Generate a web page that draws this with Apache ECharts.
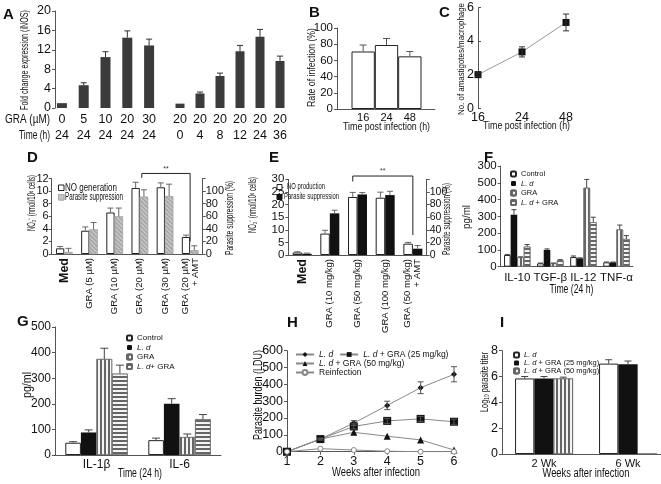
<!DOCTYPE html>
<html><head><meta charset="utf-8">
<script src="https://cdn.jsdelivr.net/npm/echarts@6/dist/echarts.min.js"></script>
<style>html,body{margin:0;padding:0;background:#fff}#c{width:661px;height:484px}</style>
</head><body><div id="c"></div>
<script>
// ---------- DATA ----------
// Panel A
const aGra1 = ['0','5','10','20','30'];
const aTime1 = ['24','24','24','24','24'];
const aFold1 = [1.0, 4.7, 10.5, 14.5, 12.9];
const aFoldErr1 = [0, 0.5, 1.1, 1.4, 1.3];
const aGra2 = ['20','20','20','20','20','20'];
const aTime2 = ['0','4','8','12','24','36'];
const aFold2 = [0.9, 3.0, 6.6, 11.7, 14.7, 9.7];
const aFoldErr2 = [0, 0.3, 0.6, 1.2, 1.5, 1.0];
// Panel B
const bCats = ['16','24','48'];
const bRate = [71, 79, 65];
const bRateErr = [8, 8, 6];
// Panel C
const cCats = ['16','24','48'];
const cAmast = [2.0, 3.35, 5.1];
const cAmastErr = [0.1, 0.3, 0.5];
// Panel D
const dCats = ['Med','GRA (5 µM)','GRA (10 µM)','GRA (20 µM)','GRA (30 µM)','GRA (20 µM)\n+ AMT'];
const dNO = [0.9, 3.7, 6.6, 10.5, 10.6, 2.7];
const dNOErr = [0.3, 0.6, 0.7, 0.9, 0.7, 0.3];
const dSupp = [3, 39, 60, 91, 92, 6];
const dSuppErr = [6, 11, 13, 11, 19, 7];
// Panel E
const eCats = ['Med','GRA (10 mg/kg)','GRA (50 mg/kg)','GRA (100 mg/kg)','GRA (50 mg/kg)\n+ AMT'];
const eNO = [1.0, 8.5, 23.0, 22.7, 4.5];
const eNOErr = [0.3, 1.3, 1.8, 2.2, 0.5];
const eSupp = [2, 66, 96, 95, 10];
const eSuppErr = [1, 5, 3, 6, 5];
// Panel F
const fCats = ['IL-10','TGF-β','IL-12','TNF-α'];
const fControl = [70, 20, 58, 26];
const fControlErr = [3, 2, 6, 2];
const fLd = [310, 100, 50, 26];
const fLdErr = [30, 6, 3, 2];
const fGra = [56, 20, 470, 222];
const fGraErr = [3, 2, 50, 26];
const fLdGra = [120, 38, 265, 165];
const fLdGraErr = [12, 4, 30, 20];
const fTickLabels = ['0','100','200','300','400','500','300'];
// Panel G
const gCats = ['IL-1β','IL-6'];
const gControl = [48, 58];
const gControlErr = [4, 8];
const gLd = [88, 200];
const gLdErr = [10, 20];
const gGra = [375, 70];
const gGraErr = [42, 12];
const gLdGra = [318, 140];
const gLdGraErr = [33, 18];
// Panel H
const hWeeks = [1, 2, 3, 4, 5, 6];
const hLd = [0, 75, 170, 275, 380, 460];
const hLdErr = [0, 5, 15, 25, 35, 45];
const hGra25 = [0, 75, 150, 183, 195, 178];
const hGra25Err = [0, 5, 15, 15, 15, 15];
const hGra50 = [0, 75, 115, 92, 70, 10];
const hGra50Err = [0, 4, 8, 8, 8, 5];
const hReinf = [0, 18, 10, 3, 0, 0];
// Panel I
const iCats = ['2 Wk','6 Wk'];
const iLd = [5.85, 7.0];
const iLdErr = [0.15, 0.3];
const iGra25 = [5.85, 6.95];
const iGra25Err = [0.15, 0.25];
const iGra50 = [5.85, 0];
const iGra50Err = [0.1, 0];

// ---------- HELPERS ----------
const FONT = '"Liberation Sans", Arial, sans-serif';
const NARROW = '"Liberation Sans Narrow", "Liberation Sans", Arial, sans-serif';
const AXC = '#555';
function merge(a, b) {
  for (const k in b) {
    if (b[k] && typeof b[k] === 'object' && !Array.isArray(b[k]) && a[k] && typeof a[k] === 'object' && !Array.isArray(a[k])) merge(a[k], b[k]);
    else a[k] = b[k];
  }
  return a;
}
const grids = [], xAxes = [], yAxes = [], series = [], legends = [], graphics = [];
function addGrid(g) { grids.push(Object.assign({ containLabel: false, outerBoundsMode: 'none' }, g)); return grids.length - 1; }
function addX(o) { xAxes.push(o); return xAxes.length - 1; }
function addY(o) { yAxes.push(o); return yAxes.length - 1; }
function valY(gi, min, max, interval, extra) {
  return addY(merge({
    type: 'value', gridIndex: gi, min, max, interval,
    axisLine: { show: true, lineStyle: { color: AXC, width: 1 } },
    axisTick: { show: true, length: 3, lineStyle: { color: AXC } },
    splitLine: { show: false },
    axisLabel: { fontSize: 12, color: '#111', margin: 4, fontFamily: NARROW }
  }, extra || {}));
}
function catX(gi, data, extra) {
  return addX(merge({
    type: 'category', gridIndex: gi, data,
    axisLine: { show: true, lineStyle: { color: AXC, width: 1 } },
    axisTick: { show: false },
    axisLabel: { fontSize: 12, color: '#111', margin: 4, interval: 0, fontFamily: NARROW }
  }, extra || {}));
}
function bar(name, xi, yi, data, style, barWidth, extra) {
  series.push(merge({
    name, type: 'bar', xAxisIndex: xi, yAxisIndex: yi, data,
    barWidth, barGap: '0%', itemStyle: style, silent: true, animation: false
  }, extra || {}));
}
function errBars(xi, yi, xs, vals, errs, offsetPx, capHalf, both, color) {
  series.push({
    type: 'custom', xAxisIndex: xi, yAxisIndex: yi, silent: true, z: 5, clip: false, animation: false,
    encode: { x: 0, y: 1 },
    data: vals.map((v, i) => [xs ? xs[i] : i, v, errs[i]]),
    renderItem(params, api) {
      const x = api.value(0), v = api.value(1), e = api.value(2);
      if (!e) return null;
      const mid = api.coord([x, v]);
      const top = api.coord([x, v + e]);
      const bot = api.coord([x, both ? v - e : v]);
      const cx = mid[0] + offsetPx;
      const st = { stroke: color, lineWidth: 1 };
      const ch = [
        { type: 'line', shape: { x1: cx, y1: top[1], x2: cx, y2: bot[1] }, style: st },
        { type: 'line', shape: { x1: cx - capHalf, y1: top[1], x2: cx + capHalf, y2: top[1] }, style: st }
      ];
      if (both) ch.push({ type: 'line', shape: { x1: cx - capHalf, y1: bot[1], x2: cx + capHalf, y2: bot[1] }, style: st });
      return { type: 'group', children: ch };
    }
  });
}
function bracket(xi, yi, fromCat, toCat, fromOff, toOff, topVal, leftVal, rightVal) {
  series.push({
    type: 'custom', xAxisIndex: xi, yAxisIndex: yi, silent: true, z: 6, clip: false, animation: false,
    data: [[fromCat, topVal]], encode: { x: 0, y: 1 },
    renderItem(params, api) {
      const a = api.coord([fromCat, topVal]), b = api.coord([toCat, topVal]);
      const l = api.coord([fromCat, leftVal]), r = api.coord([toCat, rightVal]);
      const x1 = a[0] + fromOff, x2 = b[0] + toOff;
      return { type: 'group', children: [
        { type: 'polyline', shape: { points: [[x1, l[1]], [x1, a[1]], [x2, a[1]], [x2, r[1]]] }, style: { stroke: '#222', lineWidth: 1, fill: null } },
        { type: 'text', style: { text: '**', x: (x1 + x2) / 2, y: a[1] - 1, textAlign: 'center', textVerticalAlign: 'bottom', font: '7px ' + FONT, fill: '#333' } }
      ] };
    }
  });
}
function text(x, y, t, font, align) {
  graphics.push({ type: 'text', x, y, silent: true, style: { text: t, font, fill: '#111', textAlign: align || 'left', textVerticalAlign: 'middle' } });
}
// condensed text fitted to a measured length (the source figure uses a narrow face)
const _ctx = document.createElement('canvas').getContext('2d');
function fitText(x, y, t, size, len, vertical, align) {
  const font = size + 'px ' + FONT;
  _ctx.font = font;
  const w = _ctx.measureText(t).width;
  graphics.push({ type: 'text', x, y, rotation: vertical ? Math.PI / 2 : 0, scaleX: len / w, silent: true, z: 10,
    style: { text: t, font, fill: '#111', textAlign: align || 'center', textVerticalAlign: 'middle' } });
}
function legendBox(x, y, size, style) {
  graphics.push({ type: 'rect', x, y, silent: true, z: 10, shape: { width: size, height: size },
    style: { fill: style.color, stroke: style.borderColor || style.color, lineWidth: 1, decal: style.decal } });
}
const italicRich = (fs) => ({ i: { fontStyle: 'italic', fontSize: fs, fontFamily: NARROW, color: '#111' }, n: { fontSize: fs, fontFamily: NARROW, color: '#111' } });
const WHITE = { color: '#fff', borderColor: '#222', borderWidth: 1 };
const BLACK = { color: '#111' };
const VSTRIPE = { color: '#f4f4f4', borderColor: '#666', borderWidth: 0.6, decal: { symbol: 'rect', symbolSize: 1, dashArrayX: [1.2, 1.4], dashArrayY: [6, 0], color: '#666' } };
const HSTRIPE = { color: '#f4f4f4', borderColor: '#666', borderWidth: 0.6, decal: { symbol: 'rect', symbolSize: 1, dashArrayX: [6, 0], dashArrayY: [1.2, 1.4], color: '#666' } };
const DIAG = { color: '#c4c4c4', borderColor: '#aaa', borderWidth: 0.6, decal: { symbol: 'rect', symbolSize: 1, dashArrayX: [6, 0], dashArrayY: [1, 2], rotation: Math.PI / 4, color: '#9a9a9a' } };

// ---------- PANEL A ----------
const gA1 = addGrid({ left: 51, top: 11, width: 109, height: 97 });
const gA2 = addGrid({ left: 170, top: 11, width: 120, height: 97 });
const xA1 = catX(gA1, aGra1.map((g, i) => g + '\n' + aTime1[i]), { axisLine: { show: false }, axisLabel: { fontSize: 12.5, lineHeight: 16, margin: 4 } });
const yA1 = valY(gA1, 0, 20, 4, { offset: -4, axisLabel: { fontSize: 12.5 } });
const xA2 = catX(gA2, aGra2.map((g, i) => g + '\n' + aTime2[i]), { axisLine: { show: false }, axisLabel: { fontSize: 12.5, lineHeight: 16, margin: 4 } });
const yA2 = valY(gA2, 0, 20, 4, { show: false });
bar('A1', xA1, yA1, aFold1, { color: '#3b3b3b' }, 10);
bar('A2', xA2, yA2, aFold2, { color: '#3b3b3b' }, 9);
errBars(xA1, yA1, null, aFold1, aFoldErr1, 0, 3, false, '#333');
errBars(xA2, yA2, null, aFold2, aFoldErr2, 0, 3, false, '#333');
fitText(50, 119, 'GRA (µM)', 13, 45, false, 'right');
fitText(50, 135, 'Time (h)', 13, 31, false, 'right');
fitText(25, 60, 'Fold change expression (iNOS)', 10.5, 100, true);

// ---------- PANEL B ----------
const gB = addGrid({ left: 337, top: 28, width: 98, height: 81 });
const gB2 = addGrid({ left: 351.5, top: 28, width: 70, height: 81 });
const xB = catX(gB, [''], { axisLabel: { show: false } });
const yB = valY(gB, 0, 100, 20, { axisLabel: { fontSize: 11.5 } });
const xB2 = catX(gB2, bCats, { axisLine: { show: false }, axisLabel: { fontSize: 11, margin: 3 } });
const yB2 = valY(gB2, 0, 100, 20, { show: false });
bar('B', xB2, yB2, bRate, WHITE, '100%', { barCategoryGap: '0%' });
errBars(xB2, yB2, null, bRate, bRateErr, 0, 3.5, false, '#555');
fitText(312, 67.5, 'Rate of infection (%)', 10.5, 79, true);
fitText(386.5, 127, 'Time post infection (h)', 10.5, 87, false);

// ---------- PANEL C ----------
const gC = addGrid({ left: 478, top: 7.3, width: 88, height: 101 });
const xC = catX(gC, cCats, { boundaryGap: false, axisLine: { show: false }, axisLabel: { fontSize: 12.5, margin: 3 } });
const yC = valY(gC, 0, 6, 2, { axisTick: { inside: true }, axisLabel: { fontSize: 12.5 } });
series.push({ name: 'C', type: 'line', xAxisIndex: xC, yAxisIndex: yC, data: cAmast, symbol: 'rect', symbolSize: 7, itemStyle: { color: '#111' }, lineStyle: { color: '#999', width: 1 }, silent: true, animation: false });
errBars(xC, yC, null, cAmast, cAmastErr, 0, 3, true, '#333');
fitText(462, 59, 'No. of amastigotes/macrophage', 8.5, 112, true);
fitText(526.5, 126, 'Time post infection (h)', 10.5, 87, false);

// ---------- PANEL D ----------
const gD = addGrid({ left: 51.7, top: 178.5, width: 151, height: 75.5 });
const xD = catX(gD, dCats, { axisLabel: { rotate: 90, fontSize: 9.5, lineHeight: 10, margin: 4,
  formatter: v => v === 'Med' ? '{m|Med}' : v, rich: { m: { fontSize: 12.5, fontWeight: 'bold', fontFamily: NARROW } } } });
const yD = valY(gD, 0, 12, 2, { axisLabel: { fontSize: 11, margin: 3 } });
const yD2 = valY(gD, 0, 120, 20, { position: 'right', axisLabel: { fontSize: 11, margin: 3, formatter: v => v === 120 ? '' : v } });
bar('D_no', xD, yD, dNO, WHITE, 8.3);
bar('D_supp', xD, yD2, dSupp, DIAG, 8.3);
errBars(xD, yD, null, dNO, dNOErr, -4.15, 3, false, '#666');
errBars(xD, yD2, null, dSupp, dSuppErr, 4.15, 3, false, '#666');
bracket(xD, yD, 3, 5, 2, 0, 12.8, 12.1, 2.0);
legendBox(58.5, 185, 5.5, WHITE);
fitText(65, 188, 'NO generation', 10, 52, false, 'left');
legendBox(58.5, 194.5, 5.5, DIAG);
fitText(65, 197.5, 'Parasite suppression', 10, 58, false, 'left');
fitText(32.5, 203, 'NO₂⁻ (nmol/10⁶ cells)', 10, 56, true);
fitText(230, 218, 'Parasite suppression (%)', 10, 74, true);

// ---------- PANEL E ----------
const gE = addGrid({ left: 288.3, top: 179.3, width: 138.4, height: 75.7 });
const xE = catX(gE, eCats, { axisLabel: { rotate: 90, fontSize: 9.5, lineHeight: 10, margin: 4,
  formatter: v => v === 'Med' ? '{m|Med}' : v, rich: { m: { fontSize: 12.5, fontWeight: 'bold', fontFamily: NARROW } } } });
const yE = valY(gE, 0, 30, 5, { axisLabel: { fontSize: 11.5 } });
const yE2 = valY(gE, 0, 120, 20, { position: 'right', axisLabel: { fontSize: 10.5, margin: 3, formatter: v => v === 120 ? '' : v } });
bar('E_no', xE, yE, eNO, WHITE, 9.5);
bar('E_supp', xE, yE2, eSupp, BLACK, 9.5);
errBars(xE, yE, null, eNO, eNOErr, -4.75, 3, false, '#666');
errBars(xE, yE2, null, eSupp, eSuppErr, 4.75, 3, false, '#666');
bracket(xE, yE, 2, 4, -4.75, 0, 31.3, 29.1, 7.9);
legendBox(277, 184.5, 5, WHITE);
fitText(287, 187, 'NO production', 9, 38, false, 'left');
legendBox(277, 194.5, 5, BLACK);
fitText(284, 197, 'Parasite suppression', 9, 55, false, 'left');
fitText(253.5, 205, 'NO₂⁻ (nmol/10⁶ cells)', 10, 56, true);
fitText(447, 219, 'Parasite suppression (%)', 10, 72, true);

// ---------- PANEL F ----------
const gF = addGrid({ left: 500.7, top: 166, width: 132.3, height: 100.7 });
const xF = catX(gF, fCats, { axisLabel: { fontSize: 11.5, margin: 5 } });
const yF = valY(gF, 0, 600, 100, { axisLabel: { fontSize: 11.5, formatter: v => fTickLabels[v / 100] } });
bar('F_c', xF, yF, fControl, WHITE, 6.6, { barCategoryGap: '20%' });
bar('F_ld', xF, yF, fLd, BLACK, 6.6);
bar('F_g', xF, yF, fGra, VSTRIPE, 6.6);
bar('F_lg', xF, yF, fLdGra, HSTRIPE, 6.6);
errBars(xF, yF, null, fControl, fControlErr, -9.9, 2.5, false, '#444');
errBars(xF, yF, null, fLd, fLdErr, -3.3, 2.5, false, '#444');
errBars(xF, yF, null, fGra, fGraErr, 3.3, 2.5, false, '#444');
errBars(xF, yF, null, fLdGra, fLdGraErr, 9.9, 2.5, false, '#444');
legends.push({ left: 505, top: 165, orient: 'vertical', itemWidth: 5, itemHeight: 5, itemGap: 1.5, data: ['F_c', 'F_ld', 'F_g', 'F_lg'],
  formatter: n => ({ F_c: '{n|Control}', F_ld: '{i|L. d}', F_g: '{n|GRA}', F_lg: '{i|L. d} {n|+ GRA}' })[n], textStyle: { fontSize: 7.5, fontFamily: NARROW, color: '#111', rich: italicRich(7.5) } });
fitText(467, 217, 'pg/ml', 11.5, 24, true);
fitText(571.5, 290, 'Time (24 h)', 12, 44, false);

// ---------- PANEL G ----------
const gG = addGrid({ left: 55, top: 327, width: 166, height: 128 });
const xG = catX(gG, gCats, { axisLabel: { fontSize: 12, margin: 4 } });
const yG = valY(gG, 0, 500, 100, { axisLabel: { fontSize: 12 } });
bar('G_c', xG, yG, gControl, WHITE, 15.6, { barCategoryGap: '20%' });
bar('G_ld', xG, yG, gLd, BLACK, 15.6);
bar('G_g', xG, yG, gGra, VSTRIPE, 15.6);
bar('G_lg', xG, yG, gLdGra, HSTRIPE, 15.6);
errBars(xG, yG, null, gControl, gControlErr, -23.4, 4, false, '#444');
errBars(xG, yG, null, gLd, gLdErr, -7.8, 4, false, '#444');
errBars(xG, yG, null, gGra, gGraErr, 7.8, 4, false, '#444');
errBars(xG, yG, null, gLdGra, gLdGraErr, 23.4, 4, false, '#444');
legends.push({ left: 121, top: 329, orient: 'vertical', itemWidth: 5, itemHeight: 5, itemGap: 1.5, data: ['G_c', 'G_ld', 'G_g', 'G_lg'],
  formatter: n => ({ G_c: '{n|Control}', G_ld: '{i|L. d}', G_g: '{n|GRA}', G_lg: '{i|L. d}{n|+ GRA}' })[n], textStyle: { fontSize: 8, fontFamily: NARROW, color: '#111', rich: italicRich(8) } });
fitText(28, 385, 'pg/ml', 12, 26, true);
fitText(140, 474, 'Time (24 h)', 12, 44, false);

// ---------- PANEL H ----------
const gH = addGrid({ left: 287, top: 350.7, width: 167, height: 101 });
const xH = addX({ type: 'value', gridIndex: gH, min: 1, max: 6, interval: 1,
  axisLine: { show: true, lineStyle: { color: AXC } }, axisTick: { show: true, length: 3, lineStyle: { color: AXC } }, splitLine: { show: false },
  axisLabel: { fontSize: 12.5, color: '#111', margin: 3, fontFamily: NARROW } });
const yH = valY(gH, 0, 600, 100, { axisLabel: { fontSize: 12.5 } });
const hLine = { color: '#888', width: 1 };
function hSeries(name, vals, symbol, size, itemStyle) {
  series.push({ name, type: 'line', xAxisIndex: xH, yAxisIndex: yH, data: hWeeks.map((w, i) => [w, vals[i]]), symbol, symbolSize: size,
    itemStyle, lineStyle: hLine, silent: true, animation: false, z: 3 });
}
hSeries('H_ld', hLd, 'diamond', 6, { color: '#111' });
hSeries('H_g25', hGra25, 'rect', 8, { color: '#111' });
hSeries('H_g50', hGra50, 'triangle', 7, { color: '#111' });
hSeries('H_re', hReinf, 'circle', 5, { color: '#fff', borderColor: '#888', borderWidth: 1 });
errBars(xH, yH, hWeeks, hLd, hLdErr, 0, 3, true, '#555');
errBars(xH, yH, hWeeks, hGra25, hGra25Err, 0, 3, true, '#555');
const hFmt = n => ({ H_ld: '{i|L. d}', H_g25: '{i|L. d} {n|+ GRA (25 mg/kg)}', H_g50: '{i|L. d} {n|+ GRA (50 mg/kg)}', H_re: '{n|Reinfection}' })[n];
const hLeg = (top, data) => legends.push({ left: 290, top, orient: 'horizontal', itemWidth: 18, itemHeight: 6, itemGap: 6, data, formatter: hFmt,
  textStyle: { fontSize: 8.5, fontFamily: NARROW, color: '#111', rich: italicRich(8.5) } });
hLeg(345, ['H_ld', 'H_g25']);
hLeg(354, ['H_g50']);
hLeg(363, ['H_re']);
fitText(258.5, 395, 'Parasite burden (LDU)', 12, 90, true);
fitText(376, 472.5, 'Weeks after infection', 12, 88, false);

// ---------- PANEL I ----------
const gI = addGrid({ left: 502, top: 350.7, width: 168, height: 103.3 });
const xI = catX(gI, iCats, { axisLabel: { fontSize: 11, margin: 4 } });
const yI = valY(gI, 0, 8, 2, { axisLabel: { fontSize: 12.5 } });
bar('I_ld', xI, yI, iLd, WHITE, 19.3, { barCategoryGap: '30%' });
bar('I_g25', xI, yI, iGra25, BLACK, 19.3);
bar('I_g50', xI, yI, iGra50, VSTRIPE, 19.3);
errBars(xI, yI, null, iLd, iLdErr, -19.3, 3.5, false, '#444');
errBars(xI, yI, null, iGra25, iGra25Err, 0, 3.5, false, '#444');
errBars(xI, yI, null, iGra50, iGra50Err, 19.3, 3.5, false, '#444');
legends.push({ left: 508, top: 346, orient: 'vertical', itemWidth: 5, itemHeight: 5, itemGap: 0, data: ['I_ld', 'I_g25', 'I_g50'],
  formatter: n => ({ I_ld: '{i|L. d}', I_g25: '{i|L. d} {n|+ GRA (25 mg/kg)}', I_g50: '{i|L. d} {n|+ GRA (50 mg/kg)}' })[n], textStyle: { fontSize: 7.5, fontFamily: NARROW, color: '#111', rich: italicRich(7.5) } });
fitText(485, 382, 'Log₁₀ parasite titer', 11, 60, true);
fitText(586, 473.5, 'Weeks after infection', 12, 87, false);

// ---------- PANEL LETTERS ----------
const LF = 'bold 15px ' + FONT;
[['A', 3, 15], ['B', 309, 13], ['C', 439, 13], ['D', 27, 158], ['E', 269, 158], ['F', 484, 158], ['G', 17, 322], ['H', 287, 323], ['I', 500, 323]]
  .forEach(([t, x, y]) => text(x, y, t, LF, 'left'));

const chart = echarts.init(document.getElementById('c'), null, { renderer: 'canvas' });
chart.setOption({
  animation: false,
  backgroundColor: '#fff',
  textStyle: { fontFamily: FONT },
  grid: grids, xAxis: xAxes, yAxis: yAxes, series, legend: legends, graphic: graphics
});
</script></body></html>
